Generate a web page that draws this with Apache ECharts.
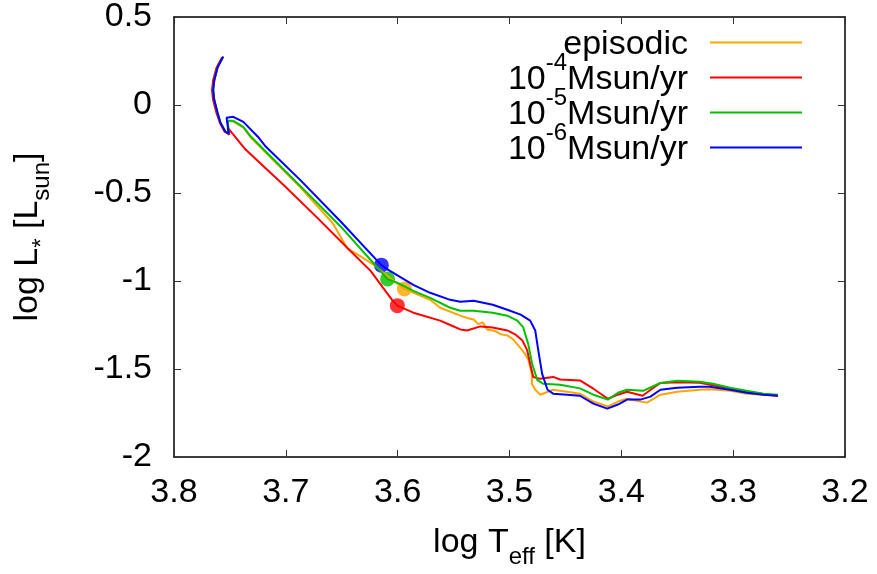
<!DOCTYPE html>
<html>
<head>
<meta charset="utf-8">
<script src="https://cdn.jsdelivr.net/npm/echarts@6/dist/echarts.min.js"></script>
<style>
html,body{margin:0;padding:0;background:#fff;}
#chart{width:877px;height:574px;}
</style>
</head>
<body>
<div id="chart"></div>
<script>
// ---- data (log Teff, log L) ----
var seriesNames = ['episodic', '1e-4', '1e-5', '1e-6'];
var seriesColors = ['#FFA500', '#FF0000', '#00C000', '#0000FF'];
var xTicks = [3.8, 3.7, 3.6, 3.5, 3.4, 3.3, 3.2];
var yTicks = [0.5, 0, -0.5, -1, -1.5, -2];

var trackTop = [[3.756,0.275],[3.761,0.214],[3.764,0.140],[3.765,0.084],[3.764,0.028],[3.761,-0.045],[3.7585,-0.101],[3.754,-0.152],[3.751,-0.163]];
var trackTopRed = [[3.757,0.272],[3.762,0.212],[3.765,0.140],[3.766,0.084],[3.765,0.028],[3.762,-0.045],[3.759,-0.101],[3.755,-0.150],[3.7505,-0.169]];

var episodicTail = [[3.752,-0.092],[3.747,-0.093],[3.738,-0.128],[3.732,-0.180],[3.718,-0.270],[3.687,-0.468],[3.658,-0.672],[3.645,-0.815],[3.633,-0.860],[3.620,-0.915],[3.607,-0.983],[3.594,-1.045],[3.571,-1.107],[3.562,-1.152],[3.544,-1.197],[3.538,-1.210],[3.532,-1.219],[3.528,-1.245],[3.524,-1.235],[3.520,-1.275],[3.515,-1.281],[3.511,-1.290],[3.508,-1.303],[3.502,-1.309],[3.497,-1.330],[3.493,-1.360],[3.489,-1.390],[3.486,-1.416],[3.483,-1.449],[3.480,-1.528],[3.480,-1.584],[3.477,-1.618],[3.4725,-1.646],[3.468,-1.635],[3.461,-1.618],[3.4485,-1.629],[3.437,-1.640],[3.425,-1.685],[3.412,-1.713],[3.403,-1.685],[3.395,-1.669],[3.383,-1.685],[3.377,-1.691],[3.365,-1.646],[3.350,-1.629],[3.330,-1.618],[3.321,-1.615],[3.303,-1.624],[3.288,-1.640],[3.273,-1.646],[3.260,-1.652]];
var m4Tail = [[3.752,-0.129],[3.736,-0.253],[3.702,-0.455],[3.672,-0.640],[3.642,-0.831],[3.624,-0.944],[3.613,-1.039],[3.605,-1.107],[3.6003,-1.140],[3.586,-1.180],[3.562,-1.225],[3.553,-1.250],[3.544,-1.275],[3.538,-1.281],[3.526,-1.258],[3.515,-1.264],[3.502,-1.281],[3.495,-1.303],[3.4886,-1.337],[3.4842,-1.393],[3.4815,-1.472],[3.4788,-1.545],[3.4725,-1.556],[3.461,-1.545],[3.4547,-1.560],[3.437,-1.565],[3.425,-1.612],[3.412,-1.669],[3.403,-1.646],[3.395,-1.629],[3.381,-1.652],[3.3725,-1.612],[3.365,-1.579],[3.350,-1.575],[3.330,-1.578],[3.318,-1.592],[3.303,-1.611],[3.288,-1.629],[3.273,-1.642],[3.260,-1.652]];
var m5Tail = [[3.752,-0.090],[3.747,-0.090],[3.738,-0.124],[3.732,-0.174],[3.718,-0.264],[3.687,-0.461],[3.651,-0.690],[3.624,-0.882],[3.609,-0.989],[3.600,-1.011],[3.586,-1.056],[3.571,-1.096],[3.553,-1.152],[3.544,-1.169],[3.532,-1.169],[3.515,-1.180],[3.502,-1.197],[3.493,-1.225],[3.4877,-1.264],[3.4832,-1.360],[3.4797,-1.472],[3.4752,-1.562],[3.4698,-1.584],[3.4547,-1.590],[3.437,-1.610],[3.425,-1.646],[3.412,-1.674],[3.403,-1.635],[3.395,-1.618],[3.3805,-1.624],[3.3725,-1.601],[3.365,-1.579],[3.350,-1.567],[3.330,-1.573],[3.318,-1.584],[3.303,-1.607],[3.288,-1.624],[3.273,-1.640],[3.260,-1.646]];
var m6Tail = [[3.753,-0.073],[3.747,-0.067],[3.738,-0.096],[3.725,-0.180],[3.718,-0.236],[3.687,-0.427],[3.651,-0.662],[3.6146,-0.910],[3.608,-0.938],[3.586,-1.022],[3.571,-1.067],[3.553,-1.107],[3.544,-1.118],[3.532,-1.112],[3.515,-1.135],[3.502,-1.163],[3.490,-1.191],[3.4815,-1.225],[3.477,-1.281],[3.4743,-1.393],[3.4708,-1.528],[3.466,-1.618],[3.461,-1.640],[3.4485,-1.646],[3.437,-1.652],[3.425,-1.697],[3.4126,-1.725],[3.403,-1.702],[3.395,-1.674],[3.383,-1.674],[3.374,-1.657],[3.365,-1.618],[3.350,-1.607],[3.330,-1.601],[3.321,-1.601],[3.303,-1.618],[3.288,-1.635],[3.273,-1.646],[3.260,-1.652]];

var episodic = trackTop.concat(episodicTail);
var rate1e4 = trackTopRed.concat(m4Tail);
var rate1e5 = trackTop.concat(m5Tail);
var rate1e6 = trackTop.concat(m6Tail);

var dotEpisodic = [[3.594,-1.045]];
var dot1e4 = [[3.6003,-1.140]];
var dot1e5 = [[3.609,-0.989]];
var dot1e6 = [[3.6146,-0.910]];

// ---- chart ----
var FONT = '"Liberation Sans", Arial, Helvetica, sans-serif';
var legendLabels = {
  'episodic': '{m|episodic}',
  '1e-4': '{m|10}{sup|-4}{m|Msun/yr}',
  '1e-5': '{m|10}{sup|-5}{m|Msun/yr}',
  '1e-6': '{m|10}{sup|-6}{m|Msun/yr}'
};
var lines = [episodic, rate1e4, rate1e5, rate1e6];
var dots = [dotEpisodic, dot1e4, dot1e5, dot1e6];

var axisLineStyle = {color:'#000', width:1.5};
var tickStyle = {color:'#333', width:1};
var titleRich = {
  m:{fontSize:34, lineHeight:34, fontFamily:FONT, color:'#000', verticalAlign:'top'},
  sub:{fontSize:24, lineHeight:24, fontFamily:FONT, color:'#000', verticalAlign:'top', padding:[19,0,0,0]}
};

function xAxisCfg(pos, main) {
  return {
    type:'value', position:pos, min:3.2, max:3.8, interval:0.1, inverse:true,
    axisLine:{show:true, onZero:false, lineStyle:axisLineStyle},
    axisTick:{show:true, inside:true, length:7, lineStyle:tickStyle},
    axisLabel:{show:main, margin:19, fontSize:34, color:'#000', fontFamily:FONT,
      formatter:function(v){return v.toFixed(1);}},
    splitLine:{show:false},
    name: main ? '{m|log T}{sub|eff}{m| [K]}' : '',
    nameLocation:'middle', nameGap:69,
    nameTextStyle:{fontFamily:FONT, color:'#000', fontSize:34, rich:titleRich}
  };
}
function yAxisCfg(pos, main) {
  return {
    type:'value', position:pos, min:-2, max:0.5, interval:0.5,
    axisLine:{show:true, onZero:false, lineStyle:axisLineStyle},
    axisTick:{show:true, inside:true, length:7, lineStyle:tickStyle},
    axisLabel:{show:main, margin:22, fontSize:34, color:'#000', fontFamily:FONT,
      formatter:function(v){return String(Math.round(v*10)/10);}},
    splitLine:{show:false},
    name: main ? '{m|log L}{sub|*}{m| [L}{sub|sun}{m|]}' : '',
    nameLocation:'middle', nameGap:129,
    nameTextStyle:{fontFamily:FONT, color:'#000', fontSize:34, rich:titleRich}
  };
}

var series = [];
for (var i = 0; i < 4; i++) {
  series.push({
    name: seriesNames[i], type:'line', data: lines[i], xAxisIndex:0, yAxisIndex:0,
    symbol:'none', showSymbol:false, clip:true,
    lineStyle:{color:seriesColors[i], width:2}, itemStyle:{color:seriesColors[i]}
  });
  series.push({
    name: seriesNames[i] + ' marker', type:'scatter', data: dots[i], xAxisIndex:0, yAxisIndex:0,
    symbol:'circle', symbolSize:15, itemStyle:{color:seriesColors[i]}
  });
}

// legend sample: a 2px bar sitting near the bottom of a 21px-high icon box
var legendIcon = 'path://M91.9,0H92V0.1H91.9ZM0,19H92V21H0Z';
var legendData = seriesNames.map(function(n){ return {name:n, icon:legendIcon}; });

var chart = echarts.init(document.getElementById('chart'), null, {renderer:'canvas'});
chart.setOption({
  animation:false,
  backgroundColor:'#fff',
  grid:{left:174, right:32, top:16, bottom:113, containLabel:false},
  xAxis:[xAxisCfg('bottom', true), xAxisCfg('top', false)],
  yAxis:[yAxisCfg('left', true), yAxisCfg('right', false)],
  legend:{
    data: legendData, orient:'vertical', align:'right', right:75, top:16,
    padding:0, itemGap:-39, itemWidth:92, itemHeight:21,
    formatter:function(n){return legendLabels[n];},
    textStyle:{fontFamily:FONT, color:'#000', fontSize:34, padding:[0,17,0,0],
      rich:{m:{fontSize:34, lineHeight:34, fontFamily:FONT, color:'#000', verticalAlign:'top', padding:[12,0,28,0]},
            sup:{fontSize:24, lineHeight:24, fontFamily:FONT, color:'#000', verticalAlign:'top'}}},
    selectedMode:false
  },
  series: series
});
</script>
</body>
</html>
